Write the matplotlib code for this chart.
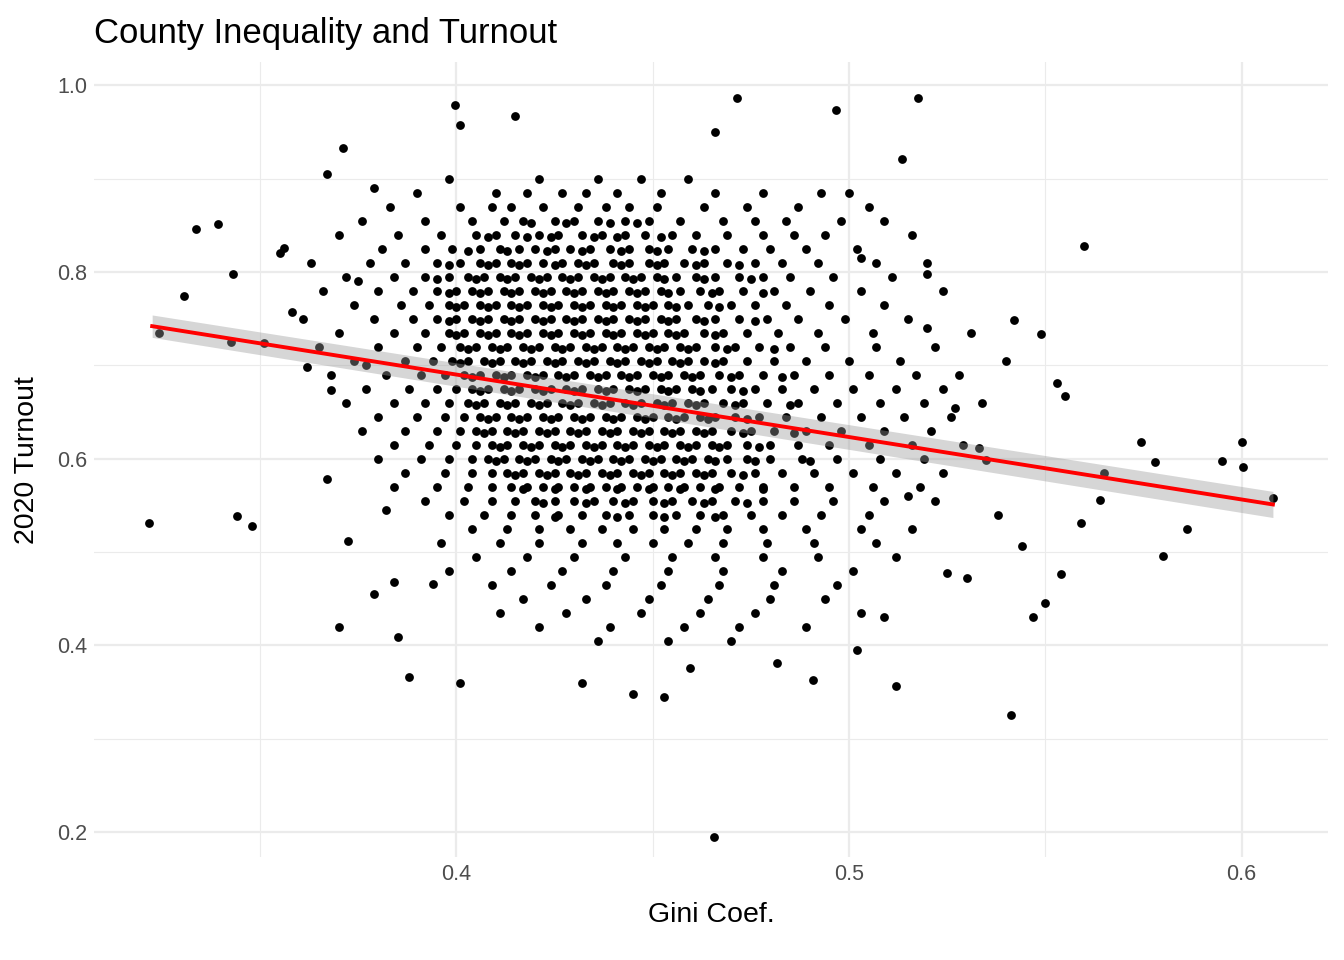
import matplotlib
matplotlib.use("Agg")
import matplotlib.pyplot as plt
import numpy as np

plt.rcParams["font.family"] = ["Liberation Sans", "DejaVu Sans"]

# outlying counties (gini, turnout)
outer_x = [0.3217, 0.3242, 0.3306, 0.3337, 0.3393, 0.343, 0.3426, 0.344, 0.348, 0.351,
           0.356, 0.367, 0.371, 0.370, 0.3724, 0.379, 0.388, 0.3997, 0.401, 0.401,
           0.415, 0.445, 0.453, 0.4656, 0.4714, 0.466, 0.4967, 0.5176, 0.5135, 0.512,
           0.5413, 0.560, 0.5745, 0.580, 0.586, 0.595, 0.600, 0.6005, 0.608, 0.578,
           0.565, 0.564, 0.559, 0.554, 0.550, 0.547, 0.555, 0.553, 0.549, 0.542,
           0.544, 0.535, 0.530, 0.525, 0.520, 0.503, 0.500, 0.502, 0.4908, 0.4816,
           0.4594, 0.432, 0.377, 0.368, 0.367, 0.385, 0.384, 0.394, 0.355, 0.358,
           0.362, 0.375, 0.379, 0.382, 0.527, 0.533, 0.538, 0.520, 0.515, 0.509]
outer_y = [0.5316, 0.7348, 0.774, 0.846, 0.852, 0.798, 0.725, 0.539, 0.528, 0.724,
           0.826, 0.905, 0.933, 0.420, 0.512, 0.455, 0.366, 0.979, 0.957, 0.360,
           0.967, 0.348, 0.345, 0.1947, 0.986, 0.950, 0.974, 0.986, 0.921, 0.357,
           0.325, 0.828, 0.618, 0.496, 0.525, 0.598, 0.618, 0.5914, 0.558, 0.596,
           0.585, 0.556, 0.531, 0.476, 0.445, 0.430, 0.667, 0.681, 0.734, 0.749,
           0.506, 0.599, 0.472, 0.478, 0.798, 0.815, 0.885, 0.395, 0.363, 0.381,
           0.376, 0.360, 0.700, 0.674, 0.578, 0.409, 0.468, 0.466, 0.820, 0.757,
           0.698, 0.790, 0.890, 0.545, 0.654, 0.612, 0.540, 0.740, 0.560, 0.430]

# body of the cloud, read row by row (turnout level -> gini values)
core_rows = {
    0.90: [0.398, 0.421, 0.436, 0.447, 0.459],
    0.885: [0.390, 0.410, 0.418, 0.427, 0.433, 0.441, 0.452, 0.466, 0.478, 0.493],
    0.87: [0.383, 0.401, 0.409, 0.414, 0.422, 0.431, 0.438, 0.444, 0.451, 0.463, 0.474, 0.487, 0.505],
    0.855: [0.376, 0.392, 0.404, 0.412, 0.417, 0.425, 0.430, 0.436, 0.443, 0.449, 0.457, 0.468, 0.476, 0.484, 0.498, 0.509],
    0.84: [0.370, 0.385, 0.396, 0.405, 0.410, 0.415, 0.421, 0.426, 0.432, 0.437, 0.443, 0.448, 0.455, 0.461, 0.469, 0.478, 0.486, 0.494, 0.516],
    0.825: [0.381, 0.392, 0.399, 0.406, 0.411, 0.416, 0.420, 0.425, 0.429, 0.434, 0.439, 0.444, 0.449, 0.454, 0.460, 0.466, 0.473, 0.480, 0.489, 0.502],
    0.81: [0.363, 0.378, 0.387, 0.395, 0.401, 0.406, 0.410, 0.414, 0.418, 0.422, 0.427, 0.431, 0.435, 0.440, 0.444, 0.449, 0.453, 0.458, 0.463, 0.469, 0.476, 0.483, 0.492, 0.507, 0.520],
    0.795: [0.372, 0.384, 0.392, 0.398, 0.403, 0.407, 0.411, 0.415, 0.419, 0.423, 0.427, 0.431, 0.435, 0.439, 0.443, 0.447, 0.451, 0.456, 0.461, 0.466, 0.472, 0.478, 0.485, 0.496, 0.511],
    0.78: [0.366, 0.380, 0.389, 0.395, 0.400, 0.404, 0.408, 0.412, 0.416, 0.420, 0.424, 0.428, 0.432, 0.436, 0.440, 0.444, 0.448, 0.452, 0.457, 0.462, 0.467, 0.473, 0.481, 0.490, 0.503, 0.524],
    0.765: [0.374, 0.386, 0.393, 0.398, 0.402, 0.406, 0.410, 0.414, 0.418, 0.422, 0.426, 0.430, 0.434, 0.438, 0.442, 0.446, 0.450, 0.454, 0.459, 0.464, 0.470, 0.476, 0.484, 0.495, 0.509],
    0.75: [0.361, 0.379, 0.389, 0.395, 0.400, 0.404, 0.408, 0.412, 0.416, 0.420, 0.424, 0.428, 0.432, 0.436, 0.440, 0.444, 0.448, 0.452, 0.456, 0.461, 0.466, 0.472, 0.479, 0.487, 0.499, 0.515],
    0.735: [0.370, 0.384, 0.392, 0.398, 0.402, 0.406, 0.410, 0.414, 0.418, 0.422, 0.426, 0.430, 0.434, 0.438, 0.442, 0.446, 0.450, 0.454, 0.458, 0.463, 0.468, 0.474, 0.482, 0.492, 0.506, 0.531],
    0.72: [0.365, 0.380, 0.390, 0.396, 0.401, 0.405, 0.409, 0.413, 0.417, 0.421, 0.425, 0.429, 0.433, 0.437, 0.441, 0.445, 0.449, 0.453, 0.457, 0.461, 0.466, 0.471, 0.477, 0.485, 0.494, 0.507, 0.522],
    0.705: [0.374, 0.387, 0.394, 0.399, 0.403, 0.407, 0.411, 0.415, 0.419, 0.423, 0.427, 0.431, 0.435, 0.439, 0.443, 0.447, 0.451, 0.455, 0.459, 0.463, 0.468, 0.474, 0.481, 0.489, 0.500, 0.513, 0.540],
    0.69: [0.368, 0.382, 0.391, 0.397, 0.402, 0.406, 0.410, 0.414, 0.418, 0.422, 0.426, 0.430, 0.434, 0.438, 0.442, 0.446, 0.450, 0.454, 0.458, 0.462, 0.467, 0.472, 0.478, 0.486, 0.495, 0.505, 0.517, 0.528],
    0.675: [0.377, 0.388, 0.395, 0.400, 0.404, 0.408, 0.412, 0.416, 0.420, 0.424, 0.428, 0.432, 0.436, 0.440, 0.444, 0.448, 0.452, 0.456, 0.460, 0.465, 0.470, 0.476, 0.483, 0.491, 0.501, 0.512, 0.524],
    0.66: [0.372, 0.384, 0.392, 0.398, 0.403, 0.407, 0.411, 0.415, 0.419, 0.423, 0.427, 0.431, 0.435, 0.439, 0.443, 0.447, 0.451, 0.455, 0.459, 0.463, 0.468, 0.473, 0.479, 0.487, 0.497, 0.508, 0.519, 0.534],
    0.645: [0.380, 0.390, 0.397, 0.402, 0.406, 0.410, 0.414, 0.418, 0.422, 0.426, 0.430, 0.434, 0.438, 0.442, 0.446, 0.450, 0.454, 0.458, 0.462, 0.466, 0.471, 0.477, 0.484, 0.493, 0.503, 0.514, 0.526],
    0.63: [0.376, 0.387, 0.395, 0.401, 0.405, 0.409, 0.413, 0.417, 0.421, 0.425, 0.429, 0.433, 0.437, 0.441, 0.445, 0.449, 0.453, 0.457, 0.461, 0.465, 0.470, 0.475, 0.481, 0.489, 0.498, 0.509, 0.521],
    0.615: [0.384, 0.393, 0.400, 0.405, 0.409, 0.413, 0.417, 0.421, 0.425, 0.429, 0.433, 0.437, 0.441, 0.445, 0.449, 0.453, 0.457, 0.461, 0.465, 0.469, 0.474, 0.480, 0.487, 0.495, 0.505, 0.516, 0.529],
    0.60: [0.380, 0.391, 0.398, 0.404, 0.408, 0.412, 0.416, 0.420, 0.424, 0.428, 0.432, 0.436, 0.440, 0.444, 0.448, 0.452, 0.456, 0.460, 0.464, 0.469, 0.474, 0.480, 0.488, 0.497, 0.508, 0.519],
    0.585: [0.387, 0.397, 0.404, 0.409, 0.413, 0.417, 0.421, 0.425, 0.429, 0.433, 0.437, 0.441, 0.445, 0.449, 0.453, 0.457, 0.461, 0.465, 0.470, 0.476, 0.483, 0.491, 0.501, 0.512, 0.524],
    0.57: [0.384, 0.395, 0.403, 0.409, 0.414, 0.418, 0.422, 0.426, 0.430, 0.434, 0.438, 0.442, 0.446, 0.450, 0.454, 0.458, 0.462, 0.467, 0.472, 0.478, 0.486, 0.495, 0.506, 0.518],
    0.555: [0.392, 0.402, 0.409, 0.415, 0.420, 0.425, 0.430, 0.435, 0.440, 0.445, 0.450, 0.455, 0.460, 0.465, 0.471, 0.478, 0.486, 0.496, 0.509, 0.522],
    0.54: [0.398, 0.407, 0.414, 0.420, 0.426, 0.432, 0.438, 0.444, 0.450, 0.456, 0.462, 0.468, 0.475, 0.483, 0.493, 0.505],
    0.525: [0.404, 0.413, 0.421, 0.429, 0.437, 0.445, 0.453, 0.461, 0.469, 0.478, 0.489, 0.503, 0.516],
    0.51: [0.396, 0.411, 0.421, 0.432, 0.441, 0.450, 0.459, 0.468, 0.479, 0.491, 0.507],
    0.495: [0.405, 0.418, 0.430, 0.443, 0.455, 0.466, 0.478, 0.492, 0.512],
    0.48: [0.398, 0.414, 0.427, 0.440, 0.454, 0.468, 0.483, 0.501],
    0.465: [0.409, 0.424, 0.438, 0.452, 0.467, 0.481, 0.497],
    0.45: [0.417, 0.433, 0.449, 0.464, 0.480, 0.494],
    0.435: [0.411, 0.428, 0.447, 0.462, 0.476, 0.503],
    0.42: [0.421, 0.439, 0.458, 0.472, 0.489],
    0.405: [0.436, 0.454, 0.470],
}

# extra counties in the darkest part of the cloud
dense_rows = {
    0.8525: [0.419, 0.428, 0.439, 0.446],
    0.8375: [0.408, 0.418, 0.424, 0.435, 0.441, 0.452],
    0.8225: [0.403, 0.413, 0.423, 0.432, 0.442, 0.451, 0.463],
    0.8075: [0.398, 0.408, 0.416, 0.425, 0.433, 0.442, 0.451, 0.461, 0.472],
    0.7925: [0.395, 0.405, 0.413, 0.421, 0.429, 0.437, 0.445, 0.453, 0.463, 0.475],
    0.7775: [0.398, 0.406, 0.414, 0.422, 0.430, 0.438, 0.446, 0.454, 0.465, 0.478],
    0.7625: [0.400, 0.408, 0.416, 0.424, 0.432, 0.440, 0.448, 0.456, 0.467],
    0.7475: [0.398, 0.406, 0.414, 0.422, 0.430, 0.438, 0.446, 0.454, 0.463, 0.476],
    0.7325: [0.400, 0.408, 0.416, 0.424, 0.432, 0.440, 0.448, 0.456, 0.466],
    0.7175: [0.403, 0.411, 0.419, 0.427, 0.435, 0.443, 0.451, 0.459, 0.469, 0.481],
    0.7025: [0.401, 0.409, 0.417, 0.425, 0.433, 0.441, 0.449, 0.457, 0.466],
    0.6875: [0.404, 0.412, 0.420, 0.428, 0.436, 0.444, 0.452, 0.460, 0.470, 0.483],
    0.6725: [0.406, 0.414, 0.422, 0.430, 0.438, 0.446, 0.454, 0.462, 0.473],
    0.6575: [0.405, 0.413, 0.421, 0.429, 0.437, 0.445, 0.453, 0.461, 0.471, 0.485],
    0.6425: [0.408, 0.416, 0.424, 0.432, 0.440, 0.448, 0.456, 0.464, 0.474],
    0.6275: [0.407, 0.415, 0.423, 0.431, 0.439, 0.447, 0.455, 0.463, 0.473, 0.486],
    0.6125: [0.411, 0.419, 0.427, 0.435, 0.443, 0.451, 0.459, 0.467, 0.477],
    0.5975: [0.410, 0.418, 0.426, 0.434, 0.442, 0.450, 0.458, 0.466, 0.476, 0.490],
    0.5825: [0.415, 0.423, 0.431, 0.439, 0.447, 0.455, 0.463, 0.473],
    0.5675: [0.417, 0.425, 0.433, 0.441, 0.449, 0.457, 0.466, 0.478],
    0.5525: [0.422, 0.433, 0.443, 0.453, 0.463, 0.474],
    0.5375: [0.425, 0.441, 0.453, 0.466],
}

# fitted line and its band
fit_x = [0.3225, 0.608]
fit_y = [0.742, 0.551]
band_lo = [0.730, 0.537]
band_hi = [0.754, 0.565]

core_x, core_y = [], []
for rows in (core_rows, dense_rows):
    for yy, xs in rows.items():
        core_x += xs
        core_y += [yy] * len(xs)

fig, ax = plt.subplots(figsize=(13.44, 9.6), dpi=100)
fig.subplots_adjust(left=0.07, right=0.988, top=0.935, bottom=0.107)

ax.scatter(core_x, core_y, s=40, color="black", linewidths=0, zorder=2)
ax.scatter(outer_x, outer_y, s=40, color="black", linewidths=0, zorder=2)
ax.fill_between(fit_x, band_lo, band_hi, color="#999999", alpha=0.4, linewidth=0, zorder=3)
ax.plot(fit_x, fit_y, color="red", linewidth=2.8, zorder=4)

ax.set_xlim(0.3077, 0.622)
ax.set_ylim(0.173, 1.0246)
ax.set_xticks([0.4, 0.5, 0.6])
ax.set_xticks([0.35, 0.45, 0.55], minor=True)
ax.set_yticks([0.2, 0.4, 0.6, 0.8, 1.0])
ax.set_yticks([0.3, 0.5, 0.7, 0.9], minor=True)
ax.set_xticklabels(["0.4", "0.5", "0.6"])
ax.set_yticklabels(["0.2", "0.4", "0.6", "0.8", "1.0"])
ax.grid(which="major", color="#ebebeb", linewidth=1.6)
ax.grid(which="minor", color="#ebebeb", linewidth=0.8)
ax.set_axisbelow(True)
for s in ax.spines.values():
    s.set_visible(False)
ax.tick_params(which="both", length=0, labelsize=15.5, labelcolor="#4d4d4d", pad=5)

ax.set_xlabel("Gini Coef.", fontsize=20.5, labelpad=12)
ax.set_ylabel("2020 Turnout", fontsize=20.5, labelpad=12)
ax.set_title("County Inequality and Turnout", fontsize=25, loc="left", x=-0.0, pad=14)

fig.savefig("out.png", dpi=100)
